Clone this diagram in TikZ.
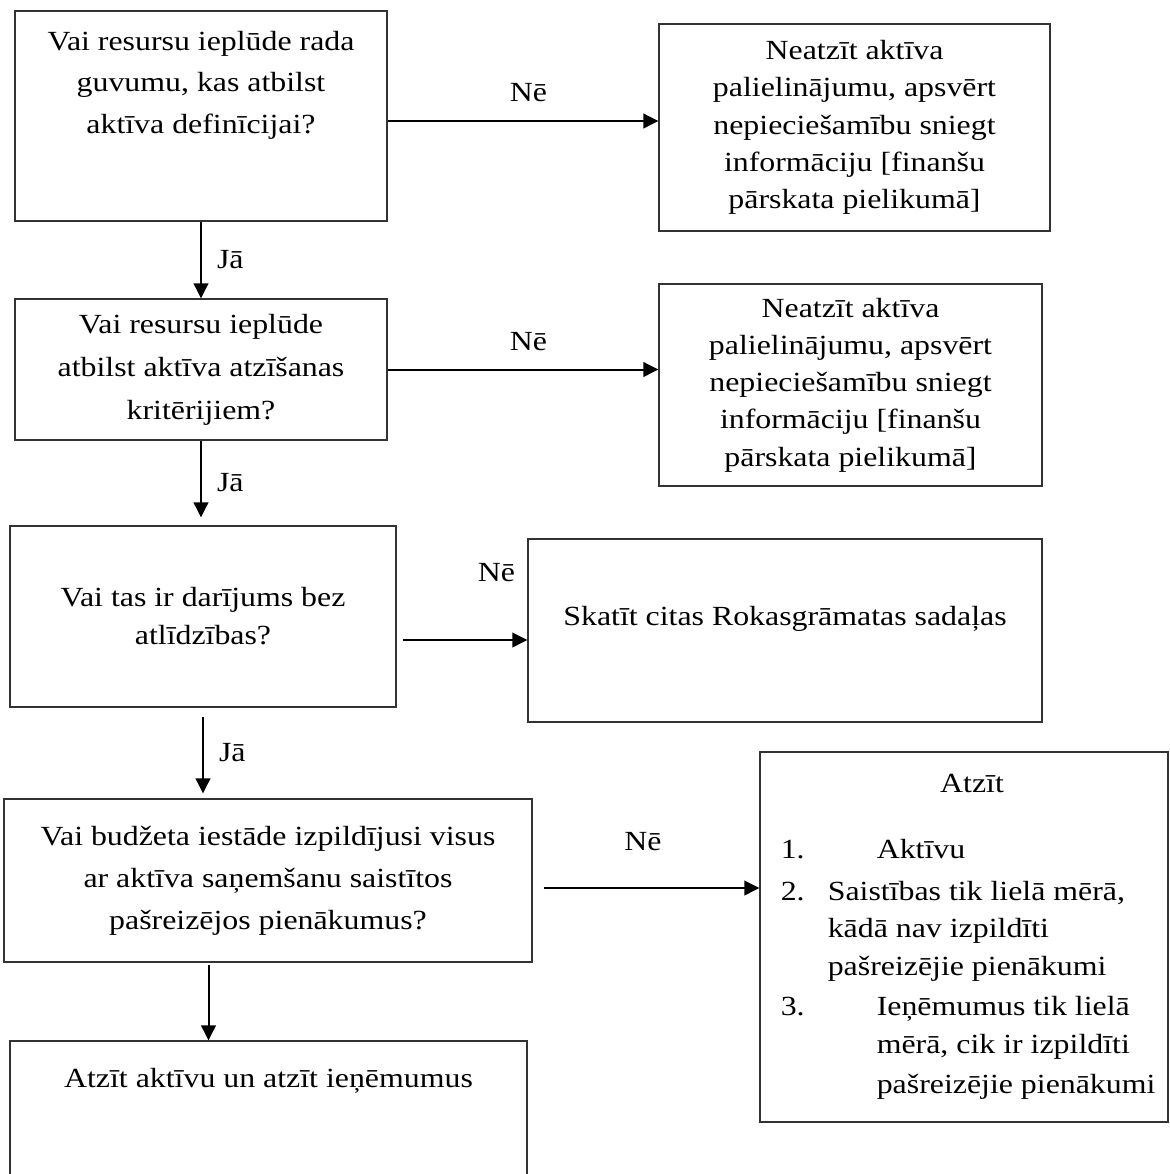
\documentclass[tikz,border=0pt]{standalone}
\usepackage{fontspec}
\setmainfont{Liberation Serif}[FakeStretch=1.15]
\usetikzlibrary{positioning,arrows.meta}
\tikzset{
  flowbox/.style={draw=black!80,line width=0.6pt,rectangle,inner sep=0pt},
  qtxt/.style={font=\fontsize{13.85}{21}\selectfont,align=center,inner sep=0pt},
  ntxt/.style={font=\fontsize{13.85}{18.6}\selectfont,align=center,inner sep=0pt},
  flow/.style={line width=1pt,-{Triangle[length=7.5pt,width=7.3pt]}},
  lab/.style={font=\fontsize{13.85}{16}\selectfont,inner sep=0pt}
}

\begin{document}
\begin{tikzpicture}[x=0.5pt,y=-0.5pt]
  \useasboundingbox (0,0) rectangle (1170,1174);
  \clip (0,0) rectangle (1170,1174);
  % left column: questions
  \node[flowbox,minimum width=186pt,minimum height=105pt] (a1) at (201,116) {};
  \node[qtxt,font=\fontsize{13.85}{20.75}\selectfont,below=10pt of a1.north] (a1txt) {Vai resursu ieplūde rada\\guvumu, kas atbilst\\aktīva definīcijai?};
  \node[flowbox,qtxt,font=\fontsize{13.85}{21.5}\selectfont,minimum width=186pt,minimum height=70.5pt] (a2) at (201,369.5) {Vai resursu ieplūde\\atbilst aktīva atzīšanas\\kritērijiem?};
  \node[flowbox,qtxt,font=\fontsize{13.85}{19}\selectfont,minimum width=193pt,minimum height=90.5pt] (a3) at (203,616.5) {Vai tas ir darījums bez\\atlīdzības?};
  \node[flowbox,qtxt,minimum width=264pt,minimum height=81.5pt] (a4) at (268,880.5) {Vai budžeta iestāde izpildījusi visus\\ar aktīva saņemšanu saistītos\\pašreizējos pienākumus?};
  \node[flowbox,minimum width=258.5pt,minimum height=80pt] (a5) at (268.5,1121) {};
  \node[qtxt,below=13.5pt of a5.north] (a5txt) {Atzīt aktīvu un atzīt ieņēmumus};
  % right column: outcomes
  \node[flowbox,ntxt,minimum width=195.5pt,minimum height=103.5pt] (b1) at (854.5,127.5) {Neatzīt aktīva\\palielinājumu, apsvērt\\nepieciešamību sniegt\\informāciju [finanšu\\pārskata pielikumā]};
  \node[flowbox,ntxt,minimum width=191.5pt,minimum height=101pt] (b2) at (850.5,385) {Neatzīt aktīva\\palielinājumu, apsvērt\\nepieciešamību sniegt\\informāciju [finanšu\\pārskata pielikumā]};
  \node[flowbox,minimum width=257pt,minimum height=91.5pt] (b3) at (785,630.5) {};
  \node[qtxt,below=33.5pt of b3.north] (b3txt) {Skatīt citas Rokasgrāmatas sadaļas};
  \node[flowbox,minimum width=204pt,minimum height=185pt] (b4) at (964,937) {};
  \node[qtxt,below=11pt of b4.north,xshift=4pt] (b4head) {Atzīt};
  \node[ntxt,font=\fontsize{13.85}{18.8}\selectfont,align=left,below right=43.5pt and 10.5pt of b4.north west] (b4list) {%
    \makebox[23.5pt][l]{1.}\hspace*{24.5pt}Aktīvu\\[2.2pt]
    \makebox[23.5pt][l]{2.}Saistības tik lielā mērā,\\
    \hspace*{23.5pt}kādā nav izpildīti\\
    \hspace*{23.5pt}pašreizējie pienākumi\\[1.5pt]
    \makebox[23.5pt][l]{3.}\hspace*{24.5pt}Ieņēmumus tik lielā\\
    \hspace*{48pt}mērā, cik ir izpildīti\\[1pt]
    \hspace*{48pt}pašreizējie pienākumi};
  % yes arrows
  \draw[flow] (a1) -- (a2) node[lab,midway,right=7.5pt] {Jā};
  \draw[flow,shorten >=4pt] (a2.south) -- (a2.south |- a3.north) node[lab,midway,right=7.5pt] {Jā};
  \draw[flow,shorten <=4.5pt,shorten >=2.5pt] (a3.south) -- (a3.south |- a4.north) node[lab,midway,right=7.5pt] {Jā};
  \coordinate (a4out) at ([xshift=-29.75pt]a4.south);
  \draw[flow,shorten <=1pt] (a4out) -- (a4out |- a5.north);
  % no arrows
  \coordinate (n1) at ([yshift=-2.5pt]a1.east);
  \draw[flow] (n1) -- (n1 -| b1.west) node[lab,pos=0.52,above=9pt] {Nē};
  \draw[flow] (a2.east) -- (a2.east -| b2.west) node[lab,pos=0.52,above=9pt] {Nē};
  \coordinate (n3) at ([xshift=3.3pt,yshift=-11.75pt]a3.east);
  \draw[flow] (n3) -- (n3 -| b3.west) node[lab,pos=0.75,above=28.5pt] {Nē};
  \coordinate (n4) at ([xshift=5.5pt,yshift=-3.75pt]a4.east);
  \draw[flow] (n4) -- (n4 -| b4.west) node[lab,pos=0.46,above=18pt] {Nē};
\end{tikzpicture}
\end{document}
